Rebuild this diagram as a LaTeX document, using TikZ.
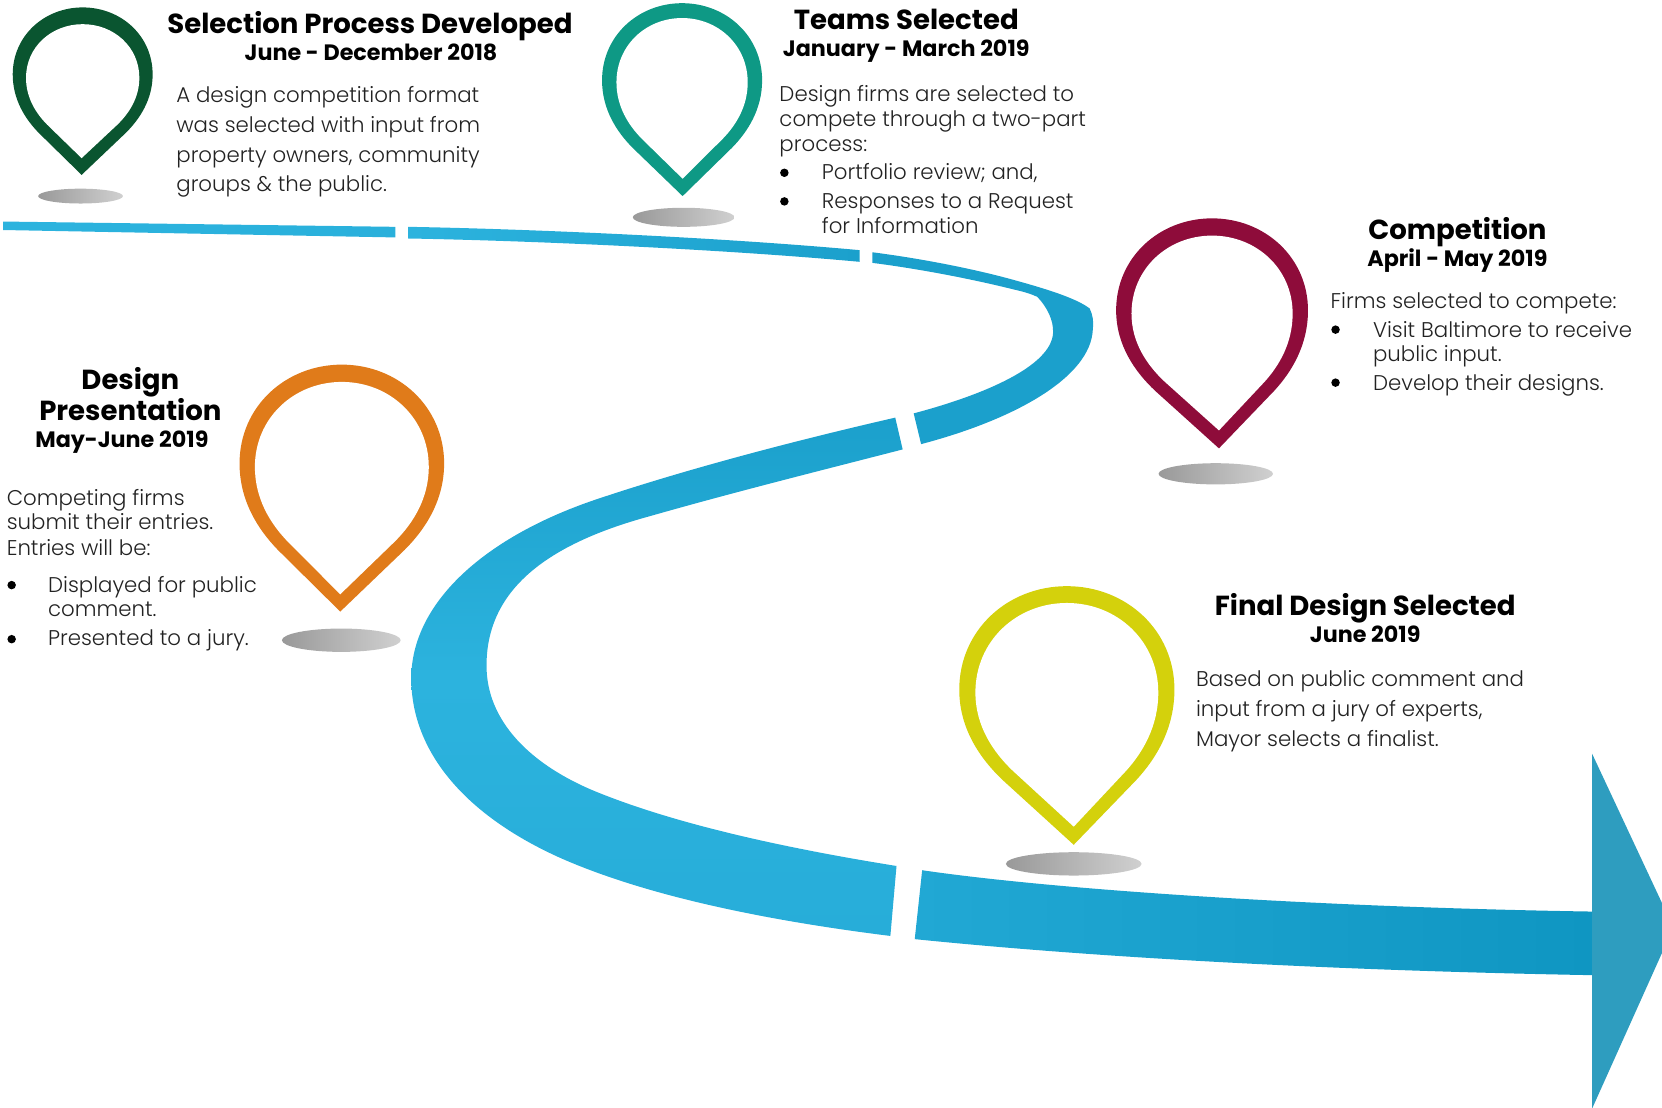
\documentclass[tikz,border=0pt]{standalone}
\usepackage{fontspec}
\setmainfont{Poppins}
\newfontfamily\lightfont{Poppins Light}
\definecolor{pgreen}{HTML}{0A5530}
\definecolor{pteal}{HTML}{0E9985}
\definecolor{pmaroon}{HTML}{8E0C3A}
\definecolor{porange}{HTML}{E07B1A}
\definecolor{pyellow}{HTML}{D4D10C}
\definecolor{rlight}{HTML}{2CB3DE}
\definecolor{rbend}{HTML}{27ADD9}
\definecolor{rlow}{HTML}{21A8D4}
\definecolor{rmid}{HTML}{1BA0CC}
\definecolor{rdark}{HTML}{0F96C2}
\definecolor{rhead}{HTML}{2E9DBF}
\definecolor{sdark}{HTML}{999999}
\definecolor{slight}{HTML}{D0D0D0}
\definecolor{body}{HTML}{222222}
\tikzset{
  bodyline/.style={anchor=base west,inner sep=0pt,text=body,font=\lightfont\fontsize{10.05}{12}\selectfont},
  headline/.style={anchor=base,inner sep=0pt,text=black,font=\fontsize{13}{15}\bfseries\selectfont},
  dateline/.style={anchor=base,inner sep=0pt,text=black,font=\fontsize{10.5}{12}\bfseries\selectfont},
  bulletdot/.style={circle,fill=black,inner sep=0pt,minimum size=4pt}
}
\newcommand{\pinpath}[1]{(#1,1) -- (-.62+.38*#1,.75) .. controls (-.82+.18*#1,.666) and (-1,.55) .. (-1,.40) .. controls (-1,.17) and (-.55,0) .. (0,0) .. controls (.55,0) and (1,.17) .. (1,.40) .. controls (1,.55) and (.82+.18*#1,.666) .. (.62+.38*#1,.75) -- cycle}
\newcommand{\pinmark}[9]{%
  \pgfmathsetmacro{\pcx}{(#2+#3)/2}%
  \pgfmathsetmacro{\phw}{(#3-#2)/2}%
  \pgfmathsetmacro{\phh}{#5-#4}%
  \pgfmathsetmacro{\ptu}{(#6-\pcx)/\phw}%
  \pgfmathsetmacro{\ptv}{\ptu/#7}%
  \pgfmathsetmacro{\pys}{#9-#8}%
  \begin{scope}[shift={(\pcx,#4)},xscale=\phw,yscale=\phh]
    \fill[#1] \pinpath{\ptu};
    \begin{scope}[shift={(0,#8)},xscale=#7,yscale=\pys]
      \fill[white] \pinpath{\ptv};
    \end{scope}
  \end{scope}}
\newcommand{\pinshadow}[4]{\shade[left color=sdark,right color=slight] (#1,#2) ellipse [x radius=#3,y radius=#4];}
\begin{document}
\begin{tikzpicture}[x=0.5pt,y=-0.5pt]
\useasboundingbox (0,0) rectangle (1568,1044.4);
% road
\shade[left color=rlight,right color=rlight!85!rmid] (3,209) -- (373,214) -- (373,224) -- (3,217) -- cycle;
\shade[left color=rlight,right color=rmid] (385,214) .. controls (500,216) and (680,224) .. (811,236) -- (811,247) .. controls (680,235) and (500,227) .. (385,225) -- cycle;
\fill[rmid] (823,238) .. controls (870,244) and (920,254) .. (956,264) .. controls (985,272) and (1015,281) .. (1028,291) .. controls (1031,297) and (1032,304) .. (1031,311) .. controls (1029,355) and (960,395) .. (869,419) -- (862,390) .. controls (930,372) and (992,345) .. (993.5,314) .. controls (994,302) and (988,290) .. (978.6,280) .. controls (972,277) and (965,275) .. (956,273) .. controls (920,264) and (870,254) .. (823,248) -- cycle;
\shade[top color=rmid,bottom color=rbend,middle color=rlight] (844.6,394) .. controls (740,418) and (640,445) .. (560,472) .. controls (455,508) and (388,570) .. (388,640) .. controls (388,710) and (440,770) .. (530,810) .. controls (610,845) and (720,868) .. (840,883) -- (845.8,817) .. controls (740,800) and (640,778) .. (565,748) .. controls (500,722) and (459,680) .. (459,628) .. controls (459,560) and (510,515) .. (613,487) .. controls (690,465) and (770,445) .. (851.6,424) -- cycle;
\shade[left color=rlow,right color=rdark] (870,821) .. controls (1000,840) and (1250,856) .. (1502,860) -- (1502,920) .. controls (1280,916) and (1050,905) .. (863,886) -- cycle;
\fill[rhead] (1502,711) -- (1568,852) -- (1568,899) -- (1502,1046) -- cycle;
% pins
\pinmark{pgreen}{12}{144}{7}{165}{77}{.81}{.10}{.90}
\pinmark{pteal}{568}{719}{3}{185}{644}{.82}{.077}{.91}
\pinmark{pmaroon}{1053}{1234}{206}{423}{1150}{.84}{.075}{.922}
\pinmark{porange}{226}{419}{344}{577}{321}{.85}{.07}{.93}
\pinmark{pyellow}{905}{1108}{553}{797}{1013}{.85}{.065}{.93}
\pinshadow{76}{185}{40}{7}
\pinshadow{645}{205}{48}{9}
\pinshadow{1147}{447}{54}{10}
\pinshadow{322}{604}{56}{11}
\pinshadow{1013}{815}{64}{11}
% stage 1
\node[headline] (h1) at (349,32) {Selection Process Developed};
\node[dateline] (d1) at (350,57) {June - December 2018};
\node[bodyline] (a1) at (166,97) {A design competition format};
\node[bodyline] (a2) at (166,125) {was selected with input from};
\node[bodyline] (a3) at (166,153) {property owners, community};
\node[bodyline] (a4) at (166,181) {groups \& the public.};
% stage 2
\node[headline] (h2) at (855,28) {Teams Selected};
\node[dateline] (d2) at (855,53) {January - March 2019};
\node[bodyline] (b1) at (735,96) {Design firms are selected to};
\node[bodyline] (b2) at (735,119) {compete through a two-part};
\node[bodyline] (b3) at (735,143) {process:};
\node[bulletdot] (bb1) at (740,163) {};
\node[bodyline] (b4) at (775,169) {Portfolio review; and,};
\node[bulletdot] (bb2) at (740,190) {};
\node[bodyline] (b5) at (775,197) {Responses to a Request};
\node[bodyline] (b6) at (775,220) {for Information};
% stage 3
\node[headline] (h3) at (1375,226) {Competition};
\node[dateline] (d3) at (1375,251) {April - May 2019};
\node[bodyline] (c1) at (1255,291) {Firms selected to compete:};
\node[bulletdot] (cb1) at (1260,311) {};
\node[bodyline] (c2) at (1295,318) {Visit Baltimore to receive};
\node[bodyline] (c3) at (1295,341) {public input.};
\node[bulletdot] (cb2) at (1260,361) {};
\node[bodyline] (c4) at (1295,368) {Develop their designs.};
% stage 4
\node[headline] (h4a) at (123,367) {Design};
\node[headline] (h4b) at (123,397) {Presentation};
\node[dateline] (d4) at (115,422) {May-June 2019};
\node[bodyline] (e1) at (6,477) {Competing firms};
\node[bodyline] (e2) at (6,500) {submit their entries.};
\node[bodyline] (e3) at (6,524) {Entries will be:};
\node[bulletdot] (eb1) at (11,552) {};
\node[bodyline] (e4) at (45,559) {Displayed for public};
\node[bodyline] (e5) at (45,582) {comment.};
\node[bulletdot] (eb2) at (11,603) {};
\node[bodyline] (e6) at (45,609) {Presented to a jury.};
% stage 5
\node[headline] (h5) at (1288,581) {Final Design Selected};
\node[dateline] (d5) at (1288,606) {June 2019};
\node[bodyline] (f1) at (1128,648) {Based on public comment and};
\node[bodyline] (f2) at (1128,676) {input from a jury of experts,};
\node[bodyline] (f3) at (1128,704) {Mayor selects a finalist.};
\end{tikzpicture}
\end{document}
